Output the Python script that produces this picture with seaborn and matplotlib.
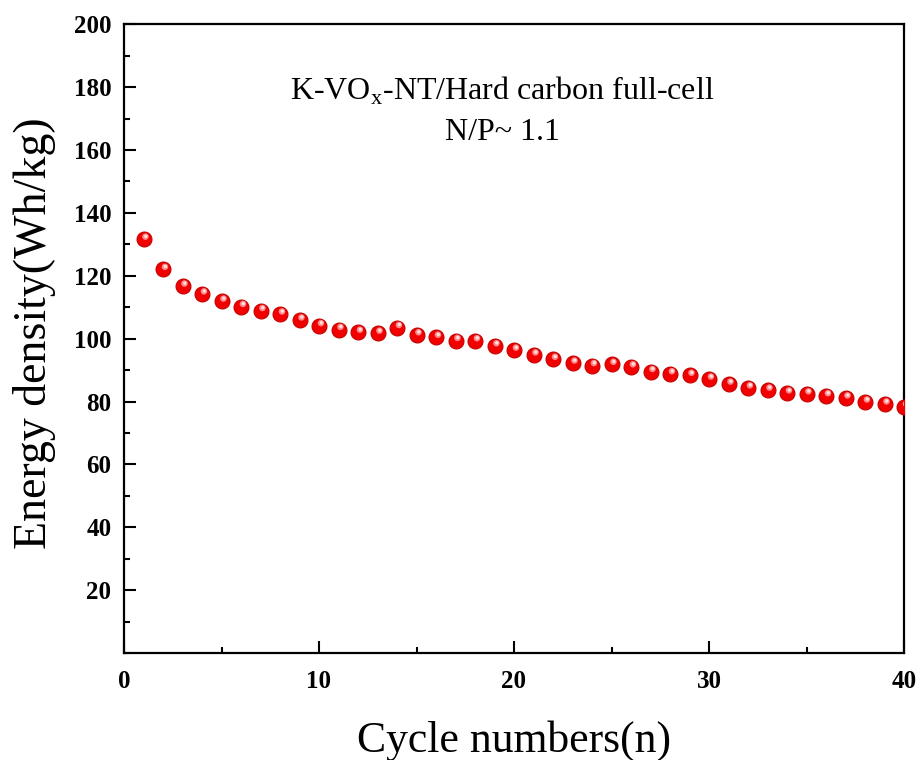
import numpy as np
import pandas as pd
import matplotlib
matplotlib.use("Agg")
import matplotlib.pyplot as plt
import matplotlib.transforms as mtransforms
from matplotlib.ticker import MultipleLocator, FixedLocator
import seaborn as sns

# Energy density of the full cell over cycling
cycles = list(range(1, 41))
energy_density = [131.6, 122.0, 116.7, 114.2, 111.9, 110.2, 108.9, 107.8, 105.9, 104.1,
                  102.9, 102.0, 101.7, 103.5, 101.2, 100.4, 99.4, 99.3, 97.7, 96.3,
                  94.8, 93.4, 92.2, 91.4, 91.8, 91.0, 89.5, 88.8, 88.3, 87.1,
                  85.5, 84.3, 83.6, 82.7, 82.4, 81.8, 81.1, 79.8, 79.2, 78.4]
x_ticks = [0, 10, 20, 30, 40]
y_ticks = [20, 40, 60, 80, 100, 120, 140, 160, 180, 200]

df = pd.DataFrame({"cycle": cycles, "energy": energy_density})

sns.set_theme(style="ticks")
plt.rcParams["font.family"] = ["Liberation Serif", "DejaVu Serif"]
plt.rcParams["mathtext.fontset"] = "custom"
plt.rcParams["mathtext.rm"] = "Liberation Serif"
for key in ["text.color", "axes.labelcolor", "xtick.color", "ytick.color",
            "xtick.labelcolor", "ytick.labelcolor"]:
    plt.rcParams[key] = "black"

fig = plt.figure(figsize=(9.2, 7.6), dpi=100)
ax = fig.add_axes([124 / 920, 1 - 653 / 760, 780 / 920, (653 - 24.3) / 760])

# shaded spheres: red body plus a small offset highlight
sns.scatterplot(data=df, x="cycle", y="energy", ax=ax, s=115, color="#f20000",
                edgecolor="#c40000", linewidth=0.8, zorder=3, legend=False)
hl = mtransforms.offset_copy(ax.transData, fig=fig, x=1.4, y=1.9, units="points")
sns.scatterplot(data=df, x="cycle", y="energy", ax=ax, s=22, color="#ff8a8a",
                edgecolor="none", linewidth=0, zorder=4, legend=False, transform=hl)
hl2 = mtransforms.offset_copy(ax.transData, fig=fig, x=1.7, y=2.2, units="points")
sns.scatterplot(data=df, x="cycle", y="energy", ax=ax, s=6, color="#ffe0e0",
                edgecolor="none", linewidth=0, zorder=5, legend=False, transform=hl2)

ax.set_xlim(0, 40)
ax.set_ylim(0, 200)
ax.xaxis.set_major_locator(FixedLocator(x_ticks))
ax.xaxis.set_minor_locator(MultipleLocator(5))
ax.yaxis.set_major_locator(FixedLocator(y_ticks))
ax.yaxis.set_minor_locator(MultipleLocator(10))

for side in ["left", "bottom", "top", "right"]:
    ax.spines[side].set_visible(True)
    ax.spines[side].set_linewidth(1.6)
    ax.spines[side].set_color("black")

ax.tick_params(which="major", direction="in", length=8.5, width=1.5, color="black",
               labelsize=18, labelcolor="black", top=False, right=False)
ax.tick_params(which="minor", direction="in", length=4.5, width=1.5, color="black",
               top=False, right=False)
ax.tick_params(axis="y", which="major", pad=9)
ax.tick_params(axis="x", which="major", pad=12)
for lab in ax.get_xticklabels() + ax.get_yticklabels():
    lab.set_fontweight("bold")

ax.set_xlabel("Cycle numbers(n)", fontsize=31.5, labelpad=20)
ax.set_ylabel("Energy density(Wh/kg)", fontsize=33, labelpad=13)
ax.yaxis.label.set_y(0.508)

ax.text(0.485, 0.895, r"K-VO$_\mathregular{x}$-NT/Hard carbon full-cell",
        transform=ax.transAxes, ha="center", va="center", fontsize=23)
ax.text(0.485, 0.828, "N/P~ 1.1", transform=ax.transAxes, ha="center", va="center",
        fontsize=23)

fig.savefig("out.png", dpi=100)
